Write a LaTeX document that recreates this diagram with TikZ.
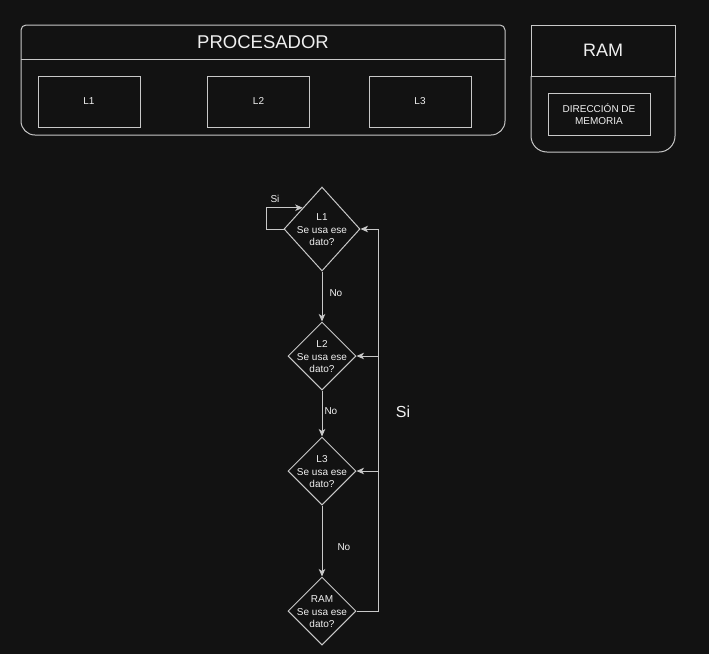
\documentclass[tikz,border=0pt]{standalone}
\usepackage{fontspec}
\setmainfont{Liberation Sans}
\usetikzlibrary{positioning, arrows.meta, shapes.geometric}
\definecolor{bgdark}{HTML}{121212}
\definecolor{linegray}{HTML}{C8C8C8}
\definecolor{txtwhite}{HTML}{F0F0F0}

\begin{document}
\begin{tikzpicture}[x=1pt, y=-1pt, line width=1pt,
                    cachebox/.style={draw=linegray, minimum width=102pt, minimum height=51pt, text=txtwhite, font=\fontsize{10}{12}\selectfont},
                    decision/.style={draw=linegray, diamond, inner sep=0pt, minimum width=68pt, minimum height=68pt},
                    qtext/.style={text=txtwhite, align=center, inner sep=0pt, yshift=-1pt, font=\fontsize{10}{12.5}\selectfont},
                    lbl/.style={text=txtwhite, inner sep=0pt, font=\fontsize{10}{12}\selectfont},
                    carrow/.style={->, draw=linegray, >={Stealth[length=7.5pt,width=6.5pt,inset=2pt]}}]
        \fill[bgdark] (0,0) rectangle (709,654);
        % procesador
        \draw[linegray, rounded corners=5pt] (21,59) -- (21,25) -- (505,25) -- (505,59);
        \draw[linegray, rounded corners=14pt] (21,59) -- (21,135) -- (505,135) -- (505,59);
        \draw[linegray] (21,59) -- (505,59);
        % ram
        \draw[linegray] (531,76) -- (531,25) -- (675,25) -- (675,76) -- cycle;
        \draw[linegray, rounded corners=16pt] (531,76) -- (531,152) -- (675,152) -- (675,76);
        \draw (263,42) node[lbl, font=\fontsize{18.5}{21}\selectfont] (proctitle) {PROCESADOR}
              (603,50) node[lbl, font=\fontsize{18}{21}\selectfont] (ramtitle) {RAM};
        \draw (89,101.5) node[cachebox] (l1box) {L1}
              (258.5,101.5) node[cachebox] (l2box) {L2}
              (420,101.5) node[cachebox] (l3box) {L3}
              (599,114) node[cachebox, minimum height=42pt, align=center] (dirbox) {DIRECCIÓN DE\\MEMORIA};
        % preguntas
        \draw (322,229) node[decision, minimum width=76pt, minimum height=84pt, label={[qtext]center:L1\\Se usa ese\\dato?}] (q1) {}
              (322,356) node[decision, label={[qtext]center:L2\\Se usa ese\\dato?}] (q2) {}
              (322,471) node[decision, label={[qtext]center:L3\\Se usa ese\\dato?}] (q3) {}
              (322,611) node[decision, label={[qtext]center:RAM\\Se usa ese\\dato?}] (q4) {};
        \draw[carrow] (q1.south) -- node[lbl, pos=0.43, anchor=west, xshift=7pt] {No} (q2.north);
        \draw[carrow] (q2.south) -- node[lbl, pos=0.45, anchor=west, xshift=2pt] {No} (q3.north);
        \draw[carrow] (q3.south) -- node[lbl, pos=0.58, anchor=west, xshift=15pt] {No} (q4.north);
        \draw[carrow] (q1.west) -- ++(-17,0) |- node[lbl, pos=0.5, anchor=south west, xshift=3.5pt, yshift=5pt] {Si} (q1.north west);
        \draw[carrow] (q4.east) -- ++(22,0) coordinate (bus) |- (q1.east);
        \draw[carrow] (bus |- q2.east) -- (q2.east);
        \draw[carrow] (bus |- q3.east) -- (q3.east);
        \node[lbl, font=\fontsize{16}{19}\selectfont] (silbl) at (403,412) {Si};
    \end{tikzpicture}
\end{document}
